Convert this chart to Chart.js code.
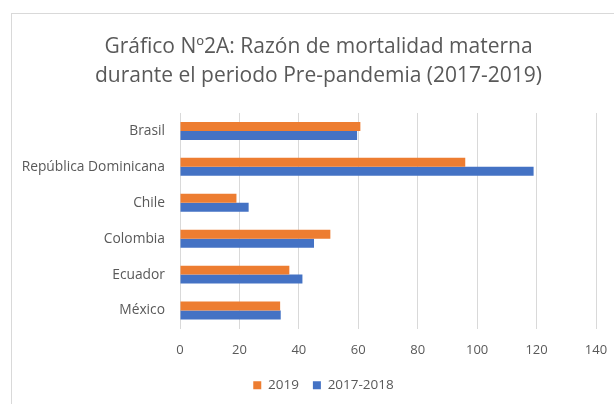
<!DOCTYPE html>
<html>
<head>
<meta charset="utf-8">
<script src="https://cdn.jsdelivr.net/npm/chart.js@4/dist/chart.umd.min.js"></script>
<style>
  body { margin: 0; background: #fff; }
  #frame { position: absolute; left: 11px; top: 13px; width: 700px; height: 500px;
           border-left: 1.5px solid #d9d9d9; border-top: 1.5px solid #d9d9d9; }
  #wrap { position: absolute; left: 0; top: 0; width: 614px; height: 404px; }
</style>
</head>
<body>
<div id="frame"></div>
<div id="wrap"><canvas id="chart"></canvas></div>
<script>
// Razón de mortalidad materna, by country
const countries = ['Brasil', 'República Dominicana', 'Chile', 'Colombia', 'Ecuador', 'México'];
const values2019 = [60.7, 96.0, 19.0, 50.6, 36.8, 33.7];
const values2017_2018 = [59.6, 119.0, 23.1, 45.1, 41.2, 33.9];
const seriesLabels = ['2019', '2017-2018'];
const titleLines = ['Gráfico Nº2A: Razón de mortalidad materna', 'durante el periodo Pre-pandemia (2017-2019)'];

const textColor = '#595959';
const fontFamily = '"Open Sans", sans-serif';

// the original chart box runs past the right edge of the picture,
// so title and legend sit a bit right of the canvas centre
const shiftTitleLegend = {
    id: 'shiftTitleLegend',
    afterLayout(chart) {
        chart.titleBlock.left += 23;
        chart.legend.left += 33;
    }
};

new Chart(document.getElementById('chart'), {
    type: 'bar',
    data: {
        labels: countries,
        datasets: [{
            label: seriesLabels[0],
            data: values2019,
            backgroundColor: '#ED7D31',
            categoryPercentage: 0.5,
            barPercentage: 1.0
        }, {
            label: seriesLabels[1],
            data: values2017_2018,
            backgroundColor: '#4472C4',
            categoryPercentage: 0.5,
            barPercentage: 1.0
        }]
    },
    options: {
        indexAxis: 'y',
        responsive: true,
        maintainAspectRatio: false,
        animation: false,
        layout: { padding: { left: 0, right: 0, top: 0, bottom: 2 } },
        scales: {
            x: {
                min: 0,
                max: 140,
                ticks: { stepSize: 20, color: textColor, font: { family: fontFamily, size: 13 }, padding: 14 },
                grid: { color: '#d9d9d9', drawTicks: false },
                border: { display: false },
                afterFit: (scale) => {
                    scale.height = 36;
                    scale.paddingRight = 18;
                }
            },
            y: {
                ticks: { color: textColor, font: { family: fontFamily, size: 13.8 }, padding: 15 },
                grid: { display: false, drawTicks: false },
                border: { display: false },
                afterFit: (scale) => { scale.width = 180; }
            }
        },
        plugins: {
            title: {
                display: true,
                text: titleLines,
                color: textColor,
                font: { family: fontFamily, size: 21, weight: 'normal', lineHeight: 1.38 },
                padding: { top: 33, bottom: 22 }
            },
            legend: {
                position: 'bottom',
                labels: {
                    color: textColor,
                    font: { family: fontFamily, size: 13.5 },
                    boxWidth: 8,
                    boxHeight: 8,
                    padding: 14
                }
            },
            tooltip: { enabled: false }
        }
    },
    plugins: [shiftTitleLegend]
});
</script>
</body>
</html>
